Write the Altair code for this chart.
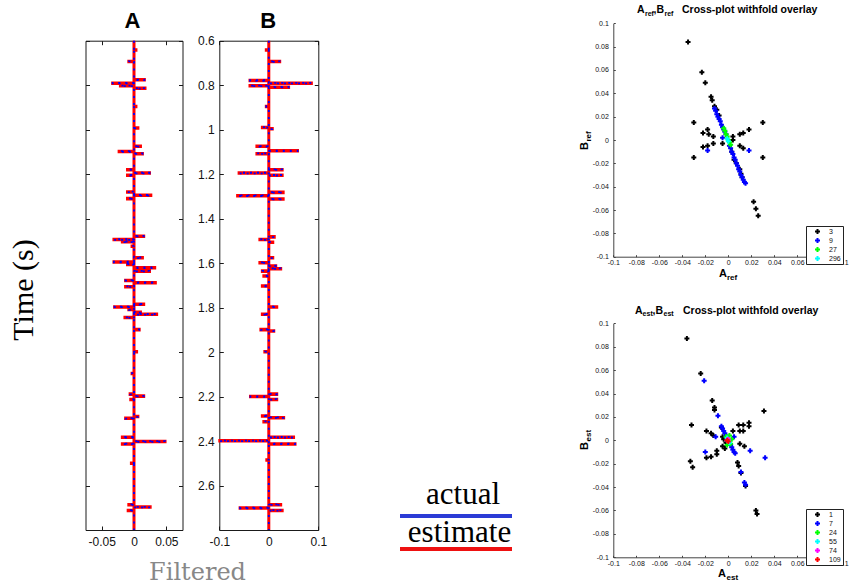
import altair as alt
import pandas as pd

W, H = 849, 588

# ---------------- Trace data (spike times in s, amplitudes) ----------------
a_times = [0.642, 0.694, 0.776, 0.791, 0.803, 0.814, 0.896, 0.993, 1.075, 1.098, 1.108,
           1.180, 1.195, 1.205, 1.280, 1.295, 1.310, 1.479, 1.494, 1.504, 1.524, 1.576,
           1.595, 1.606, 1.621, 1.636, 1.678, 1.688, 1.706, 1.785, 1.797, 1.809, 1.821,
           1.830, 1.845, 1.899, 1.999, 2.096, 2.189, 2.198, 2.213, 2.290, 2.298, 2.383,
           2.402, 2.413, 2.500, 2.686, 2.697, 2.712]
a_amps = [0.003, -0.008, 0.016, -0.033, -0.021, 0.017, 0.003, 0.006, 0.010, -0.023, 0.013,
          -0.010, 0.024, -0.010, -0.010, 0.026, -0.010, 0.015, -0.031, -0.018, -0.003, 0.013,
          -0.031, -0.010, 0.032, 0.024, -0.013, 0.033, -0.013, 0.015, -0.030, -0.008, 0.010,
          0.035, -0.014, 0.008, 0.004, -0.003, -0.006, 0.015, -0.005, 0.006, -0.013, -0.018,
          0.048, -0.018, -0.004, -0.008, 0.025, -0.009]

b_times = [0.642, 0.694, 0.779, 0.791, 0.803, 0.809, 0.896, 0.990, 0.996, 1.075,
           1.095, 1.108, 1.180, 1.195, 1.205, 1.282, 1.297, 1.312, 1.482, 1.494,
           1.506, 1.576, 1.598, 1.613, 1.625, 1.636, 1.658, 1.703, 1.797, 1.830,
           1.899, 1.905, 1.999, 2.189, 2.200, 2.213, 2.287, 2.295, 2.313, 2.383,
           2.399, 2.413, 2.485, 2.686, 2.701, 2.712]
b_amps = [-0.005, 0.022, -0.038, 0.086, -0.038, 0.040, -0.005, -0.013, 0.007, -0.024,
          0.058, -0.024, 0.027, -0.060, 0.027, 0.029, -0.063, 0.029, 0.011, -0.018,
          0.008, 0.008, -0.018, 0.014, 0.024, -0.013, -0.010, -0.013, 0.016, -0.013,
          -0.016, 0.010, -0.008, 0.016, -0.037, 0.016, -0.013, 0.030, -0.010, 0.050,
          -0.099, 0.053, -0.004, 0.024, -0.058, 0.027]

trace_yticks = [0.6, 0.8, 1.0, 1.2, 1.4, 1.6, 1.8, 2.0, 2.2, 2.4, 2.6]
a_xticks = [-0.05, 0.0, 0.05]
b_xticks = [-0.1, 0.0, 0.1]
scatter_ticks = [-0.1, -0.08, -0.06, -0.04, -0.02, 0.0, 0.02, 0.04, 0.06, 0.08, 0.1]

# ---------------- Cross-plot data ----------------
ref_labels = ["3", "9", "27", "296"]
ref_colors = ["#000000", "#0000ff", "#00ff00", "#00ffff"]
ref_x = [
    [-0.035, -0.023, -0.020, -0.015, -0.014, -0.012, -0.010, -0.008, -0.030, -0.030,
     -0.018, -0.022, -0.017, -0.013, 0.030, 0.030, 0.018, 0.013, 0.010, -0.022,
     -0.018, -0.013, 0.010, 0.013, 0.004, 0.004, 0.005, 0.007, 0.010, 0.011,
     0.012, 0.022, 0.024, 0.026, -0.005, 0.003],
    [-0.018, 0.018, 0.014, 0.015, -0.012, -0.011, -0.010, -0.009, -0.008, -0.007,
     -0.006, -0.005, -0.004, -0.003, -0.002, -0.005, 0.001, 0.002, 0.003, 0.004,
     0.005, 0.006, 0.007, 0.008, 0.009, 0.010, 0.011, 0.012, 0.013],
    [-0.004, -0.003, -0.002, -0.001, 0.000, 0.001, 0.002],
    [-0.001, 0.000],
]
ref_y = [
    [0.084, 0.058, 0.049, 0.037, 0.034, 0.029, 0.026, 0.021, 0.015, -0.015,
     0.009, 0.006, 0.005, 0.003, 0.015, -0.015, 0.009, 0.006, 0.005, -0.006,
     -0.005, -0.003, -0.005, -0.007, 0.003, 0.000, -0.017, -0.020, -0.025, -0.029,
     -0.032, -0.053, -0.059, -0.065, -0.003, -0.010],
    [-0.009, -0.009, -0.036, -0.037, 0.027, 0.025, 0.022, 0.020, 0.018, 0.016,
     0.013, 0.011, 0.009, 0.007, 0.005, 0.002, -0.005, -0.007, -0.010, -0.012,
     -0.015, -0.017, -0.020, -0.022, -0.025, -0.027, -0.030, -0.032, -0.034],
    [0.010, 0.008, 0.005, 0.003, 0.000, -0.002, -0.004],
    [0.001, -0.001],
]

est_labels = ["1", "7", "24", "55", "74", "109"]
est_colors = ["#000000", "#0000ff", "#00ff00", "#00ffff", "#ff00ff", "#ff0000"]
est_x = [
    [-0.036, -0.024, -0.014, -0.012, -0.012, -0.032, -0.033, -0.031, -0.019, -0.015,
     -0.013, -0.019, -0.015, -0.010, -0.010, 0.031, 0.018, 0.018, 0.009, 0.013,
     0.010, 0.013, 0.010, 0.014, 0.004, -0.006, -0.005, -0.005, -0.003, 0.008,
     0.009, 0.011, 0.015, 0.024, 0.025, -0.004, -0.002],
    [-0.021, -0.009, -0.011, -0.020, 0.019, 0.032, 0.011, 0.014, 0.015, -0.006,
     -0.005, -0.004, -0.003, -0.002, 0.002, 0.003, 0.004, 0.005, 0.006, 0.005],
    [-0.002, 0.002, 0.003, -0.001, 0.001],
    [-0.001, 0.001, 0.000],
    [0.000, -0.001],
    [-0.001, 0.000],
]
est_y = [
    [0.087, 0.057, 0.034, 0.028, 0.026, 0.013, -0.018, -0.023, 0.008, 0.006,
     0.004, -0.015, -0.014, -0.009, -0.012, 0.025, 0.015, 0.012, 0.013, 0.013,
     0.008, 0.008, -0.003, -0.005, 0.008, 0.011, 0.003, -0.005, -0.007, -0.019,
     -0.022, -0.028, -0.039, -0.060, -0.063, 0.001, -0.002],
    [0.051, 0.021, 0.003, -0.010, -0.009, -0.015, -0.027, -0.036, -0.038, 0.012,
     0.010, 0.008, 0.006, 0.004, -0.004, -0.006, -0.008, -0.010, -0.011, 0.003],
    [0.003, -0.003, 0.001, -0.004, 0.004],
    [0.002, -0.002, -0.001],
    [0.001, 0.000],
    [0.000, -0.001],
]


# ---------------- helpers ----------------
def build_trace(times, amps):
    pairs = sorted(zip(times, amps))
    t_list, v_list = [0.6], [0.0]
    for t, a in pairs:
        t_list += [t - 0.0012, t - 0.0012, t + 0.0012, t + 0.0012]
        v_list += [0.0, a, a, 0.0]
    t_list.append(2.8)
    v_list.append(0.0)
    return pd.DataFrame({"time": t_list, "amp": v_list, "idx": list(range(len(t_list)))})


def axis(orient, offset, values=None, tick=0, labels=False, domain=False, expr=None,
         pad=2, fs=12, color="#1a1a1a"):
    kw = dict(orient=orient, offset=offset, grid=False, title=None, domain=domain,
              labels=labels, ticks=tick > 0, domainColor=color, tickColor=color,
              domainWidth=1, tickWidth=1)
    if values is not None:
        kw["values"] = values
    if tick > 0:
        kw["tickSize"] = tick
    if labels:
        kw.update(labelExpr=expr, labelPadding=pad, labelFontSize=fs,
                  labelFont="Liberation Sans", labelColor="#111111",
                  labelFlush=False, labelOverlap=False)
    return alt.Axis(**kw)


def trace_panel(df, xdom, x0, x1, xticks, with_ylabels):
    y0, y1 = 40.7, 530.0
    xs = alt.Scale(domain=xdom, range=[x0, x1], nice=False, zero=False)
    ys = alt.Scale(domain=[0.6, 2.8], range=[y0, y1], nice=False, zero=False)
    base = alt.Chart(df)
    xl = "toString(round(datum.value*100)/100)"
    yl = "toString(round(datum.value*10)/10)"

    def X(a):
        return alt.X("amp:Q", scale=xs, axis=a)

    def Y(a):
        return alt.Y("time:Q", scale=ys, axis=a)

    t1 = base.mark_line(opacity=0).encode(
        x=X(axis("bottom", -(H - (y1 - 4)), xticks, 4, True, expr=xl, pad=6)),
        y=Y(axis("left", -(x0 + 4), trace_yticks, 4, with_ylabels, expr=yl, pad=5)),
        order="idx:Q")
    t2 = base.mark_line(opacity=0).encode(
        x=X(axis("top", -(y0 + 4), xticks, 4)),
        y=Y(axis("right", -(W - (x1 - 4)), trace_yticks, 4)),
        order="idx:Q")
    red = base.mark_line(color="#ff0000", strokeWidth=3).encode(
        x=X(axis("bottom", -(H - y1), domain=True)),
        y=Y(axis("left", -x0, domain=True)),
        order="idx:Q")
    blue = base.mark_line(color="#0000ff", strokeWidth=1.8, strokeDash=[2, 5]).encode(
        x=X(axis("top", -y0, domain=True)),
        y=Y(axis("right", -(W - x1), domain=True)),
        order="idx:Q")
    return [t1, t2, red, blue]


def scatter_panel(xl_, yl_, labels, colors, y_top, y_bot, legend_y):
    rows = []
    for lab, xs_, ys_ in zip(labels, xl_, yl_):
        for a, b in zip(xs_, ys_):
            rows.append({"A": a, "B": b, "fold": lab})
    df = pd.DataFrame(rows)
    x0, x1 = 613.3, 843.3
    xs = alt.Scale(domain=[-0.1, 0.1], range=[x0, x1], nice=False, zero=False)
    ys = alt.Scale(domain=[-0.1, 0.1], range=[y_bot, y_top], nice=False, zero=False)
    expr = "toString(round(datum.value*100)/100)"
    frame = alt.Chart(df).mark_point(opacity=0).encode(
        x=alt.X("A:Q", scale=xs, axis=axis("bottom", -(H - y_bot), domain=True, color="#444444")),
        y=alt.Y("B:Q", scale=ys, axis=axis("left", -x0, domain=True, color="#444444")))
    pts = alt.Chart(df).mark_point(shape="cross", filled=True, size=25, opacity=1).encode(
        x=alt.X("A:Q", scale=xs,
                axis=axis("bottom", -(H - (y_bot - 2)), scatter_ticks, 2, True, expr=expr,
                          pad=2, fs=7, color="#444444")),
        y=alt.Y("B:Q", scale=ys,
                axis=axis("left", -(x0 + 2), scatter_ticks, 2, True, expr=expr,
                          pad=5, fs=7, color="#444444")),
        color=alt.Color("fold:N", scale=alt.Scale(domain=labels, range=colors),
                        legend=alt.Legend(orient="none", legendX=806, legendY=legend_y,
                                          title=None, symbolType="cross", symbolSize=25,
                                          symbolStrokeWidth=0, labelFontSize=7,
                                          labelFont="Liberation Sans", labelColor="#111111",
                                          padding=2, rowPadding=1, symbolOffset=6,
                                          labelOffset=8, fillColor="white",
                                          strokeColor="#222222")))
    return [frame, pts]


def txt(s, x, y, size, weight="normal", font="Liberation Sans", color="#000000",
        angle=0, align="left"):
    return alt.Chart(pd.DataFrame({"t": [s]})).mark_text(
        font=font, fontSize=size, fontWeight=weight, color=color, angle=angle,
        align=align, baseline="alphabetic").encode(
        x=alt.value(x), y=alt.value(y), text="t:N")


def hline(x0, x1, y, color):
    return alt.Chart(pd.DataFrame({"k": [0]})).mark_rule(color=color, strokeWidth=4).encode(
        x=alt.value(x0), x2=alt.value(x1), y=alt.value(y))


layers = []
layers += trace_panel(build_trace(a_times, a_amps), [-0.075, 0.075], 85.5, 182.5, a_xticks, False)
layers += trace_panel(build_trace(b_times, b_amps), [-0.1, 0.1], 219.3, 318.3, b_xticks, True)
layers += scatter_panel(ref_x, ref_y, ref_labels, ref_colors, 23.3, 256.7, 226)
layers += scatter_panel(est_x, est_y, est_labels, est_colors, 323.3, 557.3, 509)

texts = [
    txt("A", 132.5, 28.3, 22, "bold", align="center"),
    txt("B", 268.3, 28.3, 22, "bold", align="center"),
    txt("Time (s)", 33, 290, 30, font="Liberation Serif", angle=270, align="center"),
    txt("Filtered", 197.5, 580, 24, font="DejaVu Serif", color="#888888", align="center"),
    txt("actual", 463, 504, 31, font="Liberation Serif", align="center"),
    txt("estimate", 459.5, 542, 31, font="Liberation Serif", align="center"),
    # top cross-plot title
    txt("A", 637, 12.7, 10.5, "bold"), txt("ref", 645, 15.5, 7, "bold"),
    txt(",", 653.5, 12.7, 10.5, "bold"), txt("B", 656.5, 12.7, 10.5, "bold"),
    txt("ref", 664.5, 15.5, 7, "bold"),
    txt("Cross-plot withfold overlay", 682, 12.7, 10.5, "bold"),
    # bottom cross-plot title
    txt("A", 635, 313.5, 10.5, "bold"), txt("est", 642.6, 316.3, 7, "bold"),
    txt(",", 652.5, 313.5, 10.5, "bold"), txt("B", 655.5, 313.5, 10.5, "bold"),
    txt("est", 663.5, 316.3, 7, "bold"),
    txt("Cross-plot withfold overlay", 683, 313.5, 10.5, "bold"),
    # axis titles
    txt("A", 719, 276.7, 11, "bold"), txt("ref", 727, 279.5, 8, "bold"),
    txt("A", 718, 577.3, 11, "bold"), txt("est", 726.5, 580, 8, "bold"),
    txt("B", 588, 150, 11, "bold", angle=270), txt("ref", 591, 141.5, 8, "bold", angle=270),
    txt("B", 588, 450, 11, "bold", angle=270), txt("est", 591, 441.5, 8, "bold", angle=270),
]
layers += texts
layers += [hline(400, 512, 516, "#2b3bd6"), hline(400, 512, 549, "#ee1111")]

chart = alt.layer(*layers).resolve_scale(
    x="independent", y="independent", color="independent"
).properties(
    width=W, height=H, padding=0, autosize=alt.AutoSizeParams(type="none")
).configure_view(strokeWidth=0)

chart.save("out.html", embed_options={"renderer": "svg", "actions": False})
